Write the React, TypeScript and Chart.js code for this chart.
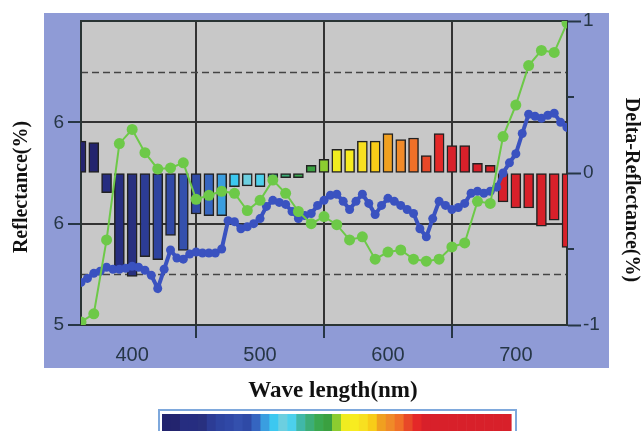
import { useEffect, useRef } from 'react';
import { Chart, registerables } from 'chart.js';

Chart.register(...registerables);

// ---- data ----
const barWavelengths = [360, 370, 380, 390, 400, 410, 420, 430, 440, 450, 460, 470, 480, 490, 500, 510, 520, 530, 540, 550, 560, 570, 580, 590, 600, 610, 620, 630, 640, 650, 660, 670, 680, 690, 700, 710, 720, 730, 740];
const deltaValues = [0.21, 0.2, -0.13, -0.62, -0.68, -0.55, -0.57, -0.41, -0.51, -0.27, -0.28, -0.28, -0.09, -0.085, -0.09, -0.03, -0.03, -0.03, 0.05, 0.09, 0.155, 0.155, 0.21, 0.21, 0.26, 0.22, 0.23, 0.115, 0.26, 0.18, 0.18, 0.064, 0.05, -0.19, -0.23, -0.23, -0.35, -0.31, -0.49];
const barColors = ['#23246e', '#23246e', '#262d80', '#262d80', '#28307f', '#2c3c95', '#2e44a0', '#3048a6', '#3450ad', '#2f4aa6', '#3565c0', '#3a9ee0', '#3cc8f0', '#6ccfe0', '#4cd0ec', '#40b8a8', '#3cae78', '#3aa850', '#3aa040', '#8ccc30', '#f0ec20', '#f8ec20', '#f8e020', '#f8cc18', '#f0a020', '#f08a28', '#f07028', '#e84828', '#e42828', '#d8202a', '#d8202a', '#d8202a', '#d8202a', '#d8202a', '#d8202a', '#d8202a', '#d8202a', '#d8202a', '#d8202a'];

const greenWavelengths = [360, 370, 380, 390, 400, 410, 420, 430, 440, 450, 460, 470, 480, 490, 500, 510, 520, 530, 540, 550, 560, 570, 580, 590, 600, 610, 620, 630, 640, 650, 660, 670, 680, 690, 700, 710, 720, 730, 740];
const greenValues = [5.03, 5.11, 5.84, 6.79, 6.93, 6.7, 6.54, 6.55, 6.6, 6.24, 6.28, 6.32, 6.3, 6.13, 6.23, 6.43, 6.3, 6.12, 6.0, 6.07, 5.99, 5.84, 5.87, 5.65, 5.72, 5.74, 5.65, 5.63, 5.65, 5.77, 5.81, 6.22, 6.2, 6.86, 7.17, 7.56, 7.71, 7.69, 7.98];

const blueWavelengths = [360, 365, 370, 375, 380, 385, 390, 395, 400, 405, 410, 415, 420, 425, 430, 435, 440, 445, 450, 455, 460, 465, 470, 475, 480, 485, 490, 495, 500, 505, 510, 515, 520, 525, 530, 535, 540, 545, 550, 555, 560, 565, 570, 575, 580, 585, 590, 595, 600, 605, 610, 615, 620, 625, 630, 635, 640, 645, 650, 655, 660, 665, 670, 675, 680, 685, 690, 695, 700, 705, 710, 715, 720, 725, 730, 735, 740];
const blueValues = [5.42, 5.46, 5.51, 5.53, 5.57, 5.55, 5.55, 5.56, 5.58, 5.57, 5.54, 5.49, 5.36, 5.55, 5.74, 5.66, 5.65, 5.7, 5.72, 5.71, 5.71, 5.71, 5.75, 6.03, 6.02, 5.95, 5.97, 6.0, 6.05, 6.17, 6.23, 6.21, 6.19, 6.12, 6.05, 6.08, 6.1, 6.18, 6.23, 6.28, 6.29, 6.22, 6.14, 6.22, 6.29, 6.2, 6.09, 6.18, 6.25, 6.22, 6.18, 6.14, 6.1, 5.95, 5.87, 6.05, 6.22, 6.18, 6.14, 6.16, 6.2, 6.3, 6.32, 6.3, 6.32, 6.36, 6.5, 6.6, 6.69, 6.89, 7.08, 7.06, 7.04, 7.07, 7.09, 7.0, 6.95];

const xTickValues = [400, 500, 600, 700];
const leftTickValues = [5, 6, 7];
const leftTickLabels = ['5', '6', '6'];
const leftDashValues = [5.5, 7.5];
const rightTickValues = [-1, 0, 1];
const rightTickLabels = ['-1', '0', '1'];
const rightMinorTicks = [-0.5, 0.5];

const xTitle = 'Wave length(nm)';
const leftTitle = 'Reflectance(%)';
const rightTitle = 'Delta-Reflectance(%)';

const TICK_COLOR = '#263646';
const GRID_COLOR = '#333333';

const decorPlugin = {
  id: 'decor',
  beforeDraw(chart: any) {
    const { ctx, chartArea: a } = chart;
    ctx.save();
    ctx.fillStyle = '#ffffff';
    ctx.fillRect(0, 0, chart.width, chart.height);
    ctx.fillStyle = '#8f9bd6';
    ctx.fillRect(a.left - 37, a.top - 8, a.right - a.left + 79, a.bottom - a.top + 51);
    ctx.fillStyle = '#c8c8c8';
    ctx.fillRect(a.left, a.top, a.right - a.left, a.bottom - a.top);
    ctx.restore();
  },
  beforeDatasetsDraw(chart: any) {
    const { ctx, chartArea: a, scales } = chart;
    ctx.save();
    ctx.strokeStyle = '#444444';
    ctx.lineWidth = 1.5;
    ctx.setLineDash([7, 4]);
    leftDashValues.forEach((v) => {
      const y = Math.round(scales.y.getPixelForValue(v)) + 0.5;
      ctx.beginPath();
      ctx.moveTo(a.left, y);
      ctx.lineTo(a.right, y);
      ctx.stroke();
    });
    ctx.setLineDash([]);
    ctx.strokeStyle = '#2a3434';
    ctx.lineWidth = 2;
    ctx.strokeRect(a.left, a.top, a.right - a.left, a.bottom - a.top);
    ctx.strokeStyle = TICK_COLOR;
    rightMinorTicks.forEach((v) => {
      const y = Math.round(scales.y1.getPixelForValue(v));
      ctx.beginPath();
      ctx.moveTo(a.right, y);
      ctx.lineTo(a.right + 7, y);
      ctx.stroke();
    });
    ctx.restore();
  },
  afterDraw(chart: any) {
    const { ctx, chartArea: a } = chart;
    ctx.save();
    ctx.fillStyle = '#111111';
    ctx.textAlign = 'center';
    ctx.textBaseline = 'middle';
    ctx.font = 'bold 20px "Liberation Serif", serif';
    ctx.save();
    ctx.translate(a.left - 59, a.top + 166);
    ctx.rotate(-Math.PI / 2);
    ctx.fillText(leftTitle, 0, 0);
    ctx.restore();
    ctx.save();
    ctx.translate(a.right + 64, a.top + 169);
    ctx.rotate(Math.PI / 2);
    ctx.fillText(rightTitle, 0, 0);
    ctx.restore();
    ctx.font = 'bold 23px "Liberation Serif", serif';
    ctx.fillText(xTitle, 333, a.bottom + 66);
    const bx = 162, by = 414, bw = 349, bh = 20;
    ctx.strokeStyle = '#7ea8dc';
    ctx.lineWidth = 2;
    ctx.strokeRect(bx - 3, by - 4, bw + 8, bh + 8);
    const seg = bw / barColors.length;
    barColors.forEach((c, i) => {
      ctx.fillStyle = c;
      ctx.fillRect(bx + i * seg, by, seg + 0.6, bh);
    });
    ctx.restore();
  },
};

export default function App() {
  const ref = useRef<HTMLCanvasElement>(null);
  useEffect(() => {
    document.body.style.margin = '0';
    if (!ref.current) return;
    const chart = new Chart(ref.current, {
      type: 'bar',
      data: {
        datasets: [
          {
            type: 'line',
            label: 'green',
            data: greenWavelengths.map((x, i) => ({ x, y: greenValues[i] })),
            yAxisID: 'y',
            borderColor: '#6dc948',
            backgroundColor: '#6dc948',
            borderWidth: 2,
            pointRadius: 5.5,
            pointBorderWidth: 0,
            tension: 0,
            order: 1,
          },
          {
            type: 'line',
            label: 'blue',
            data: blueWavelengths.map((x, i) => ({ x, y: blueValues[i] })),
            yAxisID: 'y',
            borderColor: '#3a52c0',
            backgroundColor: '#3a52c0',
            borderWidth: 4,
            pointRadius: 4.5,
            pointBorderWidth: 0,
            tension: 0,
            order: 2,
          },
          {
            type: 'bar',
            label: 'delta',
            data: barWavelengths.map((x, i) => ({ x, y: deltaValues[i] })),
            yAxisID: 'y1',
            backgroundColor: barColors,
            borderColor: '#222222',
            borderWidth: 1.5,
            borderSkipped: false,
            barThickness: 10,
            grouped: false,
            order: 3,
          } as any,
        ],
      },
      options: {
        responsive: false,
        animation: false,
        devicePixelRatio: 1,
        layout: { padding: { top: 21, left: 0, right: 0, bottom: 0 } },
        plugins: { legend: { display: false }, tooltip: { enabled: false }, title: { display: false } },
        scales: {
          x: {
            type: 'linear',
            min: 360,
            max: 740,
            offset: false,
            afterBuildTicks: (s: any) => { s.ticks = xTickValues.map((v) => ({ value: v })); },
            afterFit: (s: any) => { s.height = 106; },
            grid: { color: GRID_COLOR, lineWidth: 2, tickLength: 13, tickColor: TICK_COLOR, tickWidth: 2 },
            border: { display: true, color: '#2a3434', width: 2 },
            ticks: { color: TICK_COLOR, font: { family: 'Liberation Sans', size: 20 }, padding: 5, maxRotation: 0, autoSkip: false },
          },
          y: {
            type: 'linear',
            position: 'left',
            min: 5,
            max: 8,
            afterBuildTicks: (s: any) => { s.ticks = leftTickValues.map((v) => ({ value: v })); },
            afterFit: (s: any) => { s.width = 81; },
            grid: { color: GRID_COLOR, lineWidth: 2, tickLength: 13, tickColor: TICK_COLOR, tickWidth: 2 },
            border: { display: true, color: '#2a3434', width: 2 },
            ticks: {
              color: TICK_COLOR,
              font: { family: 'Liberation Sans', size: 19 },
              padding: 4,
              callback: (v: any) => {
                const i = leftTickValues.indexOf(Number(v));
                return i >= 0 ? leftTickLabels[i] : '';
              },
            },
          },
          y1: {
            type: 'linear',
            position: 'right',
            min: -1,
            max: 1,
            afterBuildTicks: (s: any) => { s.ticks = rightTickValues.map((v) => ({ value: v })); },
            afterFit: (s: any) => { s.width = 74; },
            grid: { drawOnChartArea: false, tickLength: 14, tickColor: TICK_COLOR, tickWidth: 2 },
            border: { display: true, color: '#2a3434', width: 2 },
            ticks: {
              color: TICK_COLOR,
              font: { family: 'Liberation Sans', size: 19 },
              padding: 2,
              callback: (v: any) => {
                const i = rightTickValues.indexOf(Number(v));
                return i >= 0 ? rightTickLabels[i] : '';
              },
            },
          },
        },
      },
      plugins: [decorPlugin],
    });
    return () => chart.destroy();
  }, []);
  return <canvas ref={ref} width={641} height={431} style={{ display: 'block' }} />;
}
